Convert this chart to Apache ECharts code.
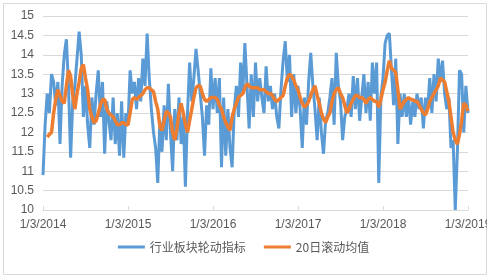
<!DOCTYPE html>
<html><head><meta charset="utf-8">
<script src="https://cdn.jsdelivr.net/npm/echarts@6/dist/echarts.min.js"></script>
<style>html,body{margin:0;padding:0;background:#fff}#c{width:487px;height:275px}</style>
</head><body><div id="c"></div>
<script>
// x tick labels (one per year), samples per year along the x axis
const xTickLabels = ['1/3/2014','1/3/2015','1/3/2016','1/3/2017','1/3/2018','1/3/2019'];
const samplesPerYear = 40;
const seriesNames = ['行业板块轮动指标','20日滚动均值'];

// 行业板块轮动指标 (daily index, sampled)
const rotationIndex = [
10.9,12.2,13.0,12.5,13.5,13.3,12.7,13.3,11.7,13.2,
14.0,14.4,13.2,11.35,12.8,13.2,13.9,14.6,14.0,12.4,
13.2,12.2,11.6,12.9,12.2,13.0,13.6,12.4,13.3,11.45,
12.8,12.3,11.8,12.9,11.7,12.5,11.4,12.8,11.35,12.5,
12.2,13.6,13.0,13.3,12.6,13.4,12.8,13.9,13.2,14.55,
13.4,12.6,12.0,11.6,10.7,12.3,11.5,12.7,11.8,13.25,
12.0,11.0,12.6,11.8,12.9,11.7,12.4,10.6,12.5,13.8,
12.8,13.4,14.15,13.6,13.0,12.4,11.4,12.7,12.2,13.65,
12.6,13.4,12.5,13.4,11.1,12.9,11.4,12.6,11.6,11.1,
12.6,13.2,12.4,13.8,13.0,14.3,13.2,12.1,13.5,12.4,
13.8,12.8,13.4,12.9,12.5,13.7,12.8,13.2,12.6,13.0,
12.4,12.1,13.1,13.85,14.35,13.3,14.0,12.4,13.5,12.5,
13.2,12.6,11.6,12.9,12.2,13.3,14.05,13.2,12.6,11.8,
12.9,12.0,11.45,12.3,12.5,12.9,13.4,12.2,14.05,13.2,
12.8,11.8,12.4,12.6,13.0,12.4,13.45,12.6,13.4,12.3,
12.9,13.5,12.5,13.3,12.3,13.8,13.0,13.8,10.7,12.9,
13.4,14.3,14.5,14.55,13.6,12.7,13.9,11.7,13.0,12.4,
13.0,12.4,12.9,12.2,12.8,12.4,13.0,12.6,12.9,12.1,
12.9,12.6,13.4,12.5,13.5,12.8,13.9,13.3,13.85,13.0,
12.6,12.9,11.6,11.8,10.0,11.5,13.6,13.5,12.0,13.2,
12.5
];

// 20日滚动均值 (20-day rolling mean, sampled)
const rollingMean = [
null,null,11.88,11.95,12.0,12.5,12.85,13.1,12.95,12.8,
12.75,13.2,13.6,13.45,12.95,12.6,13.0,13.3,13.65,13.75,
13.4,13.1,12.6,12.4,12.25,12.3,12.5,12.7,12.85,12.85,
12.6,12.5,12.45,12.4,12.3,12.2,12.2,12.25,12.25,12.2,
12.2,12.5,12.85,12.9,12.85,12.9,12.95,13.0,13.1,13.15,
13.15,13.1,13.05,12.8,12.6,12.15,12.05,12.3,12.55,12.5,
12.4,12.0,11.8,12.1,12.5,12.75,12.5,12.2,12.0,12.3,
12.6,12.9,13.15,13.2,13.2,13.0,12.85,12.8,12.85,12.9,
12.9,12.9,12.85,12.7,12.6,12.4,12.25,12.15,12.05,12.4,
12.6,12.75,12.9,12.95,13.0,13.15,13.25,13.2,13.15,13.15,
13.15,13.15,13.1,13.1,13.1,13.05,13.0,13.0,12.95,12.85,
12.8,12.85,12.9,12.95,13.2,13.4,13.5,13.45,13.35,13.2,
13.1,12.9,12.75,12.65,12.7,12.8,12.95,13.1,13.2,12.95,
12.75,12.5,12.35,12.25,12.4,12.5,12.8,13.0,13.1,13.15,
13.0,12.9,12.7,12.5,12.6,12.75,12.85,12.95,12.95,12.9,
12.9,12.85,12.75,12.85,12.9,12.85,12.8,12.8,12.65,12.85,
13.1,13.3,13.6,13.85,13.65,13.6,13.55,13.1,12.6,12.7,
12.8,12.85,12.9,12.85,12.85,12.8,12.8,12.7,12.6,12.5,
12.45,12.6,12.8,12.9,13.0,13.1,13.2,13.4,13.35,13.3,
13.05,12.8,12.4,12.0,11.8,11.7,11.95,12.3,12.75,12.7,
12.55
];

const categories = rotationIndex.map((_, i) => String(i));
const isYearTick = (i) => i % samplesPerYear === 0;

const chart = echarts.init(document.getElementById('c'), null, {renderer: 'canvas'});
chart.setOption({
  animation: false,
  backgroundColor: '#ffffff',
  textStyle: {fontFamily: '"Liberation Sans", "Noto Sans CJK SC", sans-serif'},
  graphic: [{
    type: 'rect', left: 1, top: 1, z: -1,
    shape: {width: 483, height: 271},
    style: {fill: 'none', stroke: '#d9d9d9', lineWidth: 1}
  }],
  grid: {left: 43, right: 19, top: 16, bottom: 65, containLabel: false, outerBoundsMode: 'none'},
  legend: {
    bottom: 17, left: 'center',
    icon: 'rect', itemWidth: 27, itemHeight: 3, itemGap: 18,
    textStyle: {color: '#595959', fontSize: 12, fontFamily: '"Noto Sans CJK SC", sans-serif'},
    data: seriesNames
  },
  xAxis: {
    type: 'category', data: categories, boundaryGap: false,
    axisLine: {lineStyle: {color: '#d9d9d9', width: 1}},
    axisTick: {inside: true, length: 4, interval: (i) => isYearTick(i), lineStyle: {color: '#d9d9d9'}},
    axisLabel: {
      interval: (i) => isYearTick(i), color: '#595959', fontSize: 12, margin: 9,
      showMaxLabel: true, hideOverlap: false,
      formatter: (v, i) => xTickLabels[Math.round(i / samplesPerYear)]
    },
    splitLine: {show: false}
  },
  yAxis: {
    type: 'value', min: 10, max: 15, interval: 0.5,
    axisLine: {show: false}, axisTick: {show: false},
    axisLabel: {color: '#595959', fontSize: 12, margin: 9},
    splitLine: {lineStyle: {color: '#d9d9d9', width: 1}}
  },
  series: [
    {name: seriesNames[0], type: 'line', data: rotationIndex, showSymbol: false,
     lineStyle: {color: '#5B9BD5', width: 3}, itemStyle: {color: '#5B9BD5'}, z: 2},
    {name: seriesNames[1], type: 'line', data: rollingMean, showSymbol: false,
     lineStyle: {color: '#ED7D31', width: 3.5}, itemStyle: {color: '#ED7D31'}, z: 3}
  ]
});
</script>
</body></html>
